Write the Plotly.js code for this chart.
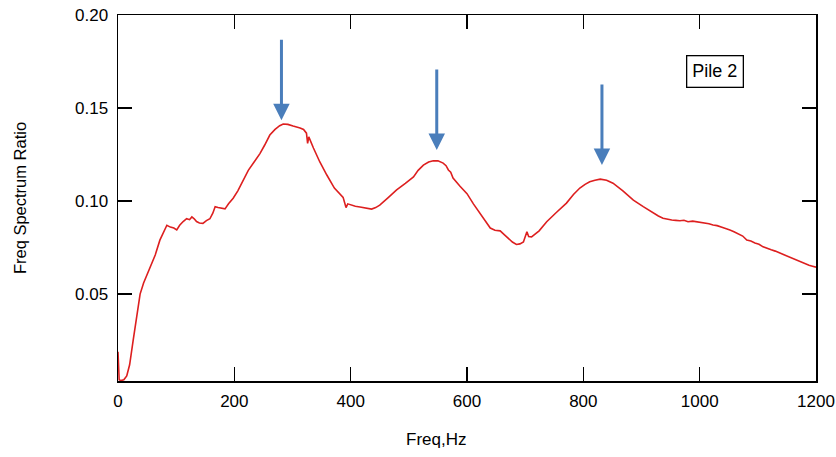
<!DOCTYPE html>
<html>
<head>
<meta charset="utf-8">
<script src="https://cdn.plot.ly/plotly-3.0.1.min.js"></script>
<style>html,body{margin:0;padding:0;background:#fff;}#chart{width:836px;height:457px;}</style>
</head>
<body>
<div id="chart"></div>
<script>
// Frequency (Hz)
var freq = [
  0, 2, 5, 10, 15, 20, 26, 32, 38, 44,
  49, 56, 64, 72, 78, 84, 90, 96, 101, 106,
  112, 118, 123, 127, 131, 135, 140, 146, 152, 158,
  163, 167, 172, 178, 184, 190, 198, 206, 215, 224,
  234, 244, 252, 261, 270, 278, 284, 292, 301, 307,
  313, 319, 324, 326, 328, 336, 347, 359, 372, 387,
  390, 392, 395, 399, 408, 416, 426, 436, 443, 450,
  465, 479, 494, 508, 516, 525, 534, 542, 550, 559,
  564, 568, 572, 576, 588, 600, 611, 622, 631, 640,
  648, 657, 664, 671, 678, 685, 691, 697, 700, 703,
  706, 711, 724, 737, 754, 771, 783, 794, 803, 811,
  820, 829, 840, 851, 868, 886, 903, 920, 929, 937,
  945, 952, 959, 966, 973, 980, 988, 995, 1002, 1009,
  1016, 1023, 1030, 1037, 1045, 1052, 1059, 1066, 1074, 1081,
  1088, 1095, 1102, 1109, 1116, 1123, 1130, 1138, 1145, 1152,
  1160, 1167, 1174, 1181, 1188, 1194, 1200
];
// Freq spectrum ratio
var ratio = [
  0.019, 0.004, 0.0035, 0.004, 0.006, 0.012, 0.025, 0.038, 0.050, 0.056,
  0.060, 0.065, 0.071, 0.079, 0.083, 0.087, 0.086, 0.0855, 0.0845, 0.087,
  0.089, 0.0905, 0.090, 0.0915, 0.0905, 0.089, 0.0882, 0.088, 0.0895, 0.0905,
  0.0935, 0.097, 0.0965, 0.0962, 0.0958, 0.0985, 0.1015, 0.1055, 0.111, 0.1165,
  0.121, 0.1255, 0.130, 0.1355, 0.1385, 0.1405, 0.1414, 0.1412, 0.1403, 0.140,
  0.1393, 0.1385, 0.1365, 0.131, 0.1345, 0.1285, 0.121, 0.114, 0.107, 0.102,
  0.099, 0.0965, 0.0985, 0.098, 0.0972, 0.0968, 0.0962, 0.0957, 0.0965, 0.0978,
  0.102, 0.106, 0.1095, 0.113, 0.1165, 0.1193, 0.121, 0.1217, 0.1216, 0.1204,
  0.119, 0.1167, 0.1155, 0.1124, 0.108, 0.104, 0.0985, 0.0935, 0.089, 0.0855,
  0.0843, 0.084, 0.082, 0.080, 0.078, 0.0767, 0.077, 0.078, 0.0805, 0.0835,
  0.081, 0.0808, 0.084, 0.0889, 0.094, 0.0989, 0.1035, 0.107, 0.109, 0.1104,
  0.1112, 0.1118, 0.1112, 0.1096, 0.1055, 0.1005, 0.097, 0.0935, 0.092, 0.0908,
  0.0902, 0.0898, 0.0896, 0.0894, 0.0897, 0.0889, 0.0892, 0.0889, 0.0884, 0.0880,
  0.0878, 0.0871, 0.0868, 0.0860, 0.0853, 0.0844, 0.0835, 0.0823, 0.0812, 0.079,
  0.0785, 0.0775, 0.0768, 0.0754, 0.0748, 0.0738, 0.0731, 0.072, 0.0713, 0.0702,
  0.0693, 0.0684, 0.0671, 0.0662, 0.0655, 0.0650, 0.0645
];
// Peak markers (arrow tips)
var peakFreq = [281, 548, 832];
var peakTip = [0.1435, 0.1274, 0.1194];
// Axis ticks
var xTickVals = [0, 200, 400, 600, 800, 1000, 1200];
var xTickText = ['0', '200', '400', '600', '800', '1000', '1200'];
var yTickVals = [0.05, 0.10, 0.15, 0.20];
var yTickText = ['0.05', '0.10', '0.15', '0.20'];
var labelText = 'Pile 2';
var xTitleText = 'Freq,Hz';
var yTitleText = 'Freq Spectrum Ratio';

var font = 'Arial, "Liberation Sans", sans-serif';

var trace = {
  x: freq, y: ratio, type: 'scatter', mode: 'lines',
  line: {color: '#dd1f1f', width: 1.6},
  hoverinfo: 'x+y', showlegend: false
};

var annotations = peakFreq.map(function (f, i) {
  return {
    x: f, y: peakTip[i], xref: 'x', yref: 'y',
    ax: 0, ay: -82, showarrow: true, text: '',
    arrowhead: 2, arrowsize: 1.1, arrowwidth: 3, arrowcolor: '#4a7ebb', standoff: 0
  };
});
annotations.push({
  x: 1026, y: 0.1694, xref: 'x', yref: 'y', showarrow: false,
  text: labelText, font: {family: font, size: 18, color: '#000'},
  bordercolor: '#000', borderwidth: 1.3, borderpad: 5, bgcolor: '#fff'
});
// x-axis title, placed left of centre as in the reference
annotations.push({
  x: 0.4556, y: -0.161, xref: 'paper', yref: 'paper',
  xanchor: 'center', yanchor: 'middle',
  showarrow: false, text: xTitleText,
  font: {family: font, size: 17, color: '#000'}
});

var axisCommon = {
  showline: true, linecolor: '#000', linewidth: 1.5, mirror: 'ticks',
  ticks: 'inside', ticklen: 14, tickwidth: 1.5, tickcolor: '#000',
  showgrid: false, zeroline: false,
  tickfont: {family: font, size: 17, color: '#000'}
};

var layout = {
  width: 836, height: 457,
  margin: {l: 118, r: 20, t: 15, b: 76},
  paper_bgcolor: '#fff', plot_bgcolor: '#fff',
  xaxis: Object.assign({}, axisCommon, {
    range: [0, 1200], tickmode: 'array', tickvals: xTickVals, ticktext: xTickText,
    ticklabelstandoff: 4
  }),
  yaxis: Object.assign({}, axisCommon, {
    range: [0.0033, 0.2], tickmode: 'array', tickvals: yTickVals, ticktext: yTickText,
    ticklabelstandoff: 5,
    title: {text: yTitleText, font: {family: font, size: 16.5, color: '#000'}, standoff: 44}
  }),
  annotations: annotations,
  showlegend: false
};

Plotly.newPlot('chart', [trace], layout, {displayModeBar: false, staticPlot: true});
</script>
</body>
</html>
